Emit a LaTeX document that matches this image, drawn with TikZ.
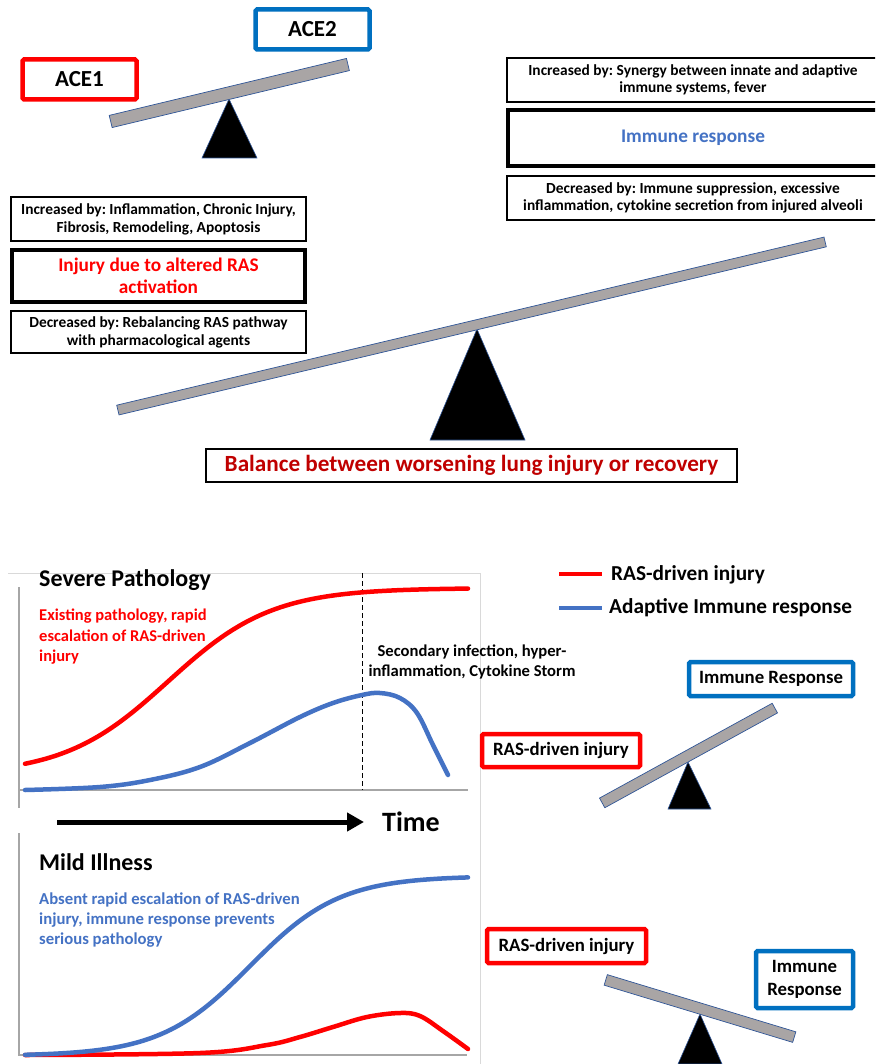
\documentclass[tikz,border=0pt]{standalone}
\usepackage{fontspec}
\setmainfont{Carlito}
\usetikzlibrary{arrows.meta}
\definecolor{boxblue}{HTML}{0070C0}
\definecolor{curveblue}{HTML}{4472C4}
\definecolor{darkred}{HTML}{C00000}
\definecolor{beamgray}{HTML}{A9A5A5}
\definecolor{beamedge}{HTML}{2F5597}
\definecolor{framegray}{HTML}{D9D9D9}
\definecolor{axisgray}{HTML}{A6A6A6}
\newcommand{\fs}[2]{\bfseries\frenchspacing\fontsize{#1}{#2}\selectfont}
\frenchspacing
\begin{document}
\begin{tikzpicture}[x=1pt,y=-1pt, font=\bfseries,
  redbox/.style={draw=red, line width=4.5pt, rounded corners=1.5pt, fill=white, inner sep=0pt, align=center},
  bluebox/.style={draw=boxblue, line width=4.5pt, rounded corners=1.5pt, fill=white, inner sep=0pt, align=center},
  thinbox/.style={draw=black, line width=1.8pt, fill=white, inner sep=0pt, align=center},
  thickbox/.style={draw=black, line width=4pt, fill=white, inner sep=0pt, align=center},
  beam/.style={draw=beamedge, line width=0.7pt, fill=beamgray, inner sep=0pt},
  fulcrum/.style={draw=beamedge, line width=0.6pt, fill=black},
  redcurve/.style={red, line width=4.5pt, line cap=round},
  bluecurve/.style={curveblue, line width=4.5pt, line cap=round},
  axisline/.style={axisgray, line width=1.3pt},
  plain/.style={inner sep=0pt, align=left}]
\clip (0,0) rectangle (875,1064);
\fill[white] (0,0) rectangle (875,1064);

% ---------- top small balance ----------
\draw[fulcrum] (229,99) -- (257,158) -- (202,158) -- cycle;
\node[beam, minimum width=244pt, minimum height=12.5pt, rotate=13.5] (beamA) at (229.3,93) {};
\node[bluebox, minimum width=114pt, minimum height=40pt, font=\fs{23}{25}] (ace2) at (312.5,29.5) {ACE2};
\node[redbox, minimum width=114pt, minimum height=40pt, font=\fs{23}{25}] (ace1) at (79.5,79.5) {ACE1};

% ---------- top right boxes ----------
\node[thinbox, minimum width=372pt, minimum height=44pt, font=\fs{15.4}{17}] (incR) at (693,80)
  {Increased by: Synergy between innate and adaptive\\ immune systems, fever};
\node[thickbox, minimum width=370pt, minimum height=56pt, font=\fs{19.3}{21}, text=curveblue] (immR) at (693,138)
  {Immune response};
\node[thinbox, minimum width=372pt, minimum height=44pt, font=\fs{15.4}{17}] (decR) at (693,198)
  {Decreased by: Immune suppression, excessive\\ inflammation, cytokine secretion from injured alveoli};

% ---------- left boxes ----------
\node[thinbox, minimum width=295pt, minimum height=44pt, font=\fs{15.4}{18}] (incL) at (158.5,219)
  {Increased by: Inflammation, Chronic Injury,\\ Fibrosis, Remodeling, Apoptosis};
\node[thickbox, minimum width=293pt, minimum height=52pt, font=\fs{19.3}{22}, text=red] (injL) at (158.5,276)
  {Injury due to altered RAS\\ activation};
\node[thinbox, minimum width=295pt, minimum height=42pt, font=\fs{15.4}{18}] (decL) at (158.5,332)
  {Decreased by: Rebalancing RAS pathway\\ with pharmacological agents};

% ---------- big balance ----------
\draw[fulcrum] (477,329) -- (525,440) -- (430,440) -- cycle;
\node[beam, minimum width=727pt, minimum height=10pt, rotate=13.37] (beamB) at (471.5,326) {};
\node[thinbox, minimum width=531pt, minimum height=33pt, font=\fs{23.2}{25}, text=darkred] (bal) at (471.5,465.5)
  {Balance between worsening lung injury or recovery};

% ---------- graph frame ----------
\draw[framegray, line width=0.8pt] (8,573) -- (480,573) -- (480,1064);

% ---------- severe graph ----------
\draw[axisline] (19,587) -- (19,808);
\draw[axisline] (19,790) -- (468,790);
\draw[black, line width=0.9pt, dash pattern=on 5pt off 3pt] (362,573) -- (362,790);
\draw[redcurve] plot[domain=25:468, samples=80, smooth] (\x, {775-187/(1+exp(-(\x-168)/52))});
\draw[bluecurve] plot[smooth, tension=0.6] coordinates {(25,790) (100,787) (150,780) (200,767) (250,743) (300,717) (333,703) (362,695) (380,693) (400,698) (417,713) (433,745) (448,775)};
\node[plain, anchor=west, font=\fs{24}{26}] (sevT) at (39,580) {Severe Pathology};
\node[plain, anchor=west, text=red, font=\fs{16.5}{20.5}] (sevD) at (39,637) {Existing pathology, rapid\\ escalation of RAS-driven\\ injury};
\node[plain, align=center, font=\fs{16.6}{20.5}] (sec) at (472,662) {Secondary infection, hyper-\\ inflammation, Cytokine Storm};

% ---------- time arrow ----------
\coordinate (tA) at (57,822);
\coordinate (tB) at (364,822);
\draw[line width=5pt, -{Triangle[length=17pt,width=18pt]}] (tA) -- (tB);
\node[plain, anchor=west, font=\fs{28}{30}] (time) at (382,822) {Time};

% ---------- mild graph ----------
\draw[axisline] (19,833) -- (19,1055) -- (467,1055);
\draw[redcurve] plot[smooth, tension=0.6] coordinates {(25,1055) (200,1053) (267,1045) (300,1037) (333,1027) (367,1017) (400,1013) (420,1016) (443,1031) (468,1049)};
\draw[bluecurve] plot[domain=25:468, samples=80, smooth] (\x, {1056-180/(1+exp(-(\x-250)/45))});
\node[plain, anchor=west, font=\fs{24}{26}] (mildT) at (39,862) {Mild Illness};
\node[plain, anchor=west, text=curveblue, font=\fs{16.7}{20}] (mildD) at (39,920) {Absent rapid escalation of RAS-driven\\ injury, immune response prevents\\ serious pathology};

% ---------- legend ----------
\coordinate (lr1) at (559,574);
\coordinate (lr2) at (602,574);
\coordinate (lb1) at (559,608);
\coordinate (lb2) at (602,608);
\draw[red, line width=4pt] (lr1) -- (lr2);
\draw[curveblue, line width=4pt] (lb1) -- (lb2);
\node[plain, anchor=west, font=\fs{21.3}{23}] (legR) at (611,575) {RAS-driven injury};
\node[plain, anchor=west, font=\fs{21.3}{23}] (legB) at (609,608) {Adaptive Immune response};

% ---------- right balance 1 ----------
\draw[fulcrum] (688,762) -- (711,809) -- (668,809) -- cycle;
\node[beam, minimum width=197pt, minimum height=11pt, rotate=28.77] (beamC) at (688.5,755.5) {};
\node[bluebox, minimum width=164pt, minimum height=34pt, font=\fs{18.8}{21}] (imm1) at (771,679) {Immune Response};
\node[redbox, minimum width=158pt, minimum height=33pt, font=\fs{18.8}{21}] (ras1) at (561,750.5) {RAS-driven injury};

% ---------- right balance 2 ----------
\draw[fulcrum] (700,1014) -- (722,1064) -- (678,1064) -- cycle;
\node[beam, minimum width=197pt, minimum height=11pt, rotate=-16.87] (beamD) at (700,1008.5) {};
\node[redbox, minimum width=159pt, minimum height=34pt, font=\fs{18.8}{21}] (ras2) at (566.5,946) {RAS-driven injury};
\node[bluebox, minimum width=97pt, minimum height=57pt, font=\fs{18.8}{23}] (imm2) at (804.5,979.5) {Immune\\ Response};
\end{tikzpicture}
\end{document}
